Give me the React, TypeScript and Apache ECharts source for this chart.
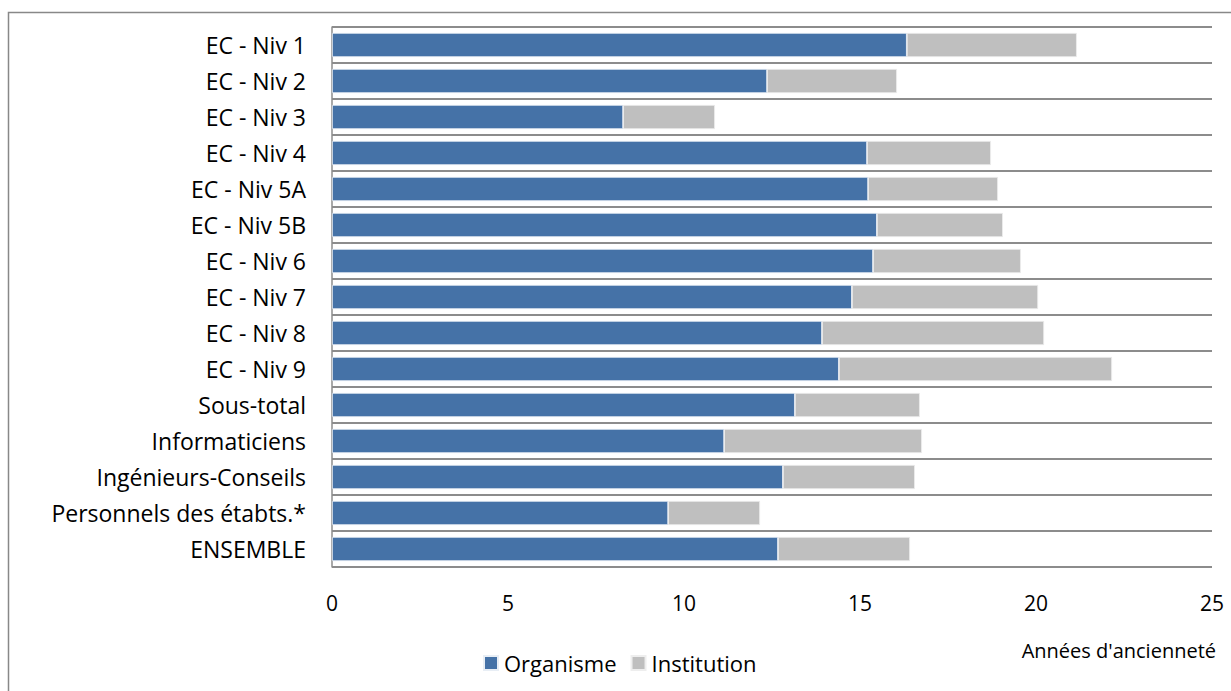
import React, { useEffect, useRef } from "react";
import * as echarts from "echarts";

const categories = [
  "EC - Niv 1",
  "EC - Niv 2",
  "EC - Niv 3",
  "EC - Niv 4",
  "EC - Niv 5A",
  "EC - Niv 5B",
  "EC - Niv 6",
  "EC - Niv 7",
  "EC - Niv 8",
  "EC - Niv 9",
  "Sous-total",
  "Informaticiens",
  "Ingénieurs-Conseils",
  "Personnels des étabts.*",
  "ENSEMBLE",
];

const organisme = [16.33, 12.36, 8.27, 15.2, 15.23, 15.48, 15.37, 14.77, 13.92, 14.4, 13.15, 11.14, 12.81, 9.55, 12.67];
const institution = [4.83, 3.69, 2.61, 3.52, 3.69, 3.58, 4.2, 5.29, 6.31, 7.76, 3.55, 5.62, 3.75, 2.61, 3.75];

const xTicks = { min: 0, max: 25, interval: 5 };
const FONT = "'Open Sans', 'Noto Sans', sans-serif";

export default function App() {
  const ref = useRef<HTMLDivElement>(null);
  useEffect(() => {
    if (!ref.current) return;
    const chart = echarts.init(ref.current, undefined, { renderer: "svg" });
    chart.setOption({
      animation: false,
      backgroundColor: "#ffffff",
      textStyle: { fontFamily: FONT },
      grid: { left: 332, right: 19, top: 27, bottom: 124, containLabel: false },
      legend: {
        data: ["Organisme", "Institution"],
        left: 478,
        top: 647,
        itemWidth: 14,
        itemHeight: 14,
        itemGap: 14,
        icon: "rect",
        textStyle: { fontSize: 22, color: "#000", fontFamily: FONT, padding: [0, 0, 0, 1] },
      },
      xAxis: {
        type: "value",
        min: xTicks.min,
        max: xTicks.max,
        interval: xTicks.interval,
        splitLine: { show: false },
        axisLine: { show: false },
        axisTick: { show: false },
        axisLabel: { fontSize: 21, color: "#000", margin: 25, fontFamily: FONT },
      },
      yAxis: {
        type: "category",
        data: categories,
        inverse: true,
        axisTick: { show: false },
        axisLine: { show: true, lineStyle: { color: "#8c8c8c", width: 1.5 } },
        splitLine: { show: true, interval: 0, lineStyle: { color: "#8c8c8c", width: 2 } },
        axisLabel: { fontSize: 23, color: "#000", margin: 26, fontFamily: FONT },
      },
      series: [
        {
          name: "Organisme",
          type: "bar",
          stack: "t",
          data: organisme,
          barCategoryGap: "33%",
          itemStyle: { color: "#4572A7", borderColor: "#e8eef5", borderWidth: 0.8 },
        },
        {
          name: "Institution",
          type: "bar",
          stack: "t",
          data: institution,
          barCategoryGap: "33%",
          itemStyle: { color: "#BFBFBF", borderColor: "#eeeeee", borderWidth: 0.8 },
        },
      ],
      graphic: [
        {
          type: "rect",
          shape: { x: 8.5, y: 12.5, width: 1400, height: 900 },
          style: { fill: "none", stroke: "#888888", lineWidth: 1.5 },
          silent: true,
        },
        {
          type: "text",
          right: 15,
          top: 640,
          style: { text: "Années d'ancienneté", fontSize: 20, fill: "#000", fontFamily: FONT },
        },
      ],
    });
    return () => chart.dispose();
  }, []);
  return (
    <div
      ref={ref}
      style={{ position: "absolute", left: 0, top: 0, width: 1231, height: 691 }}
    />
  );
}
